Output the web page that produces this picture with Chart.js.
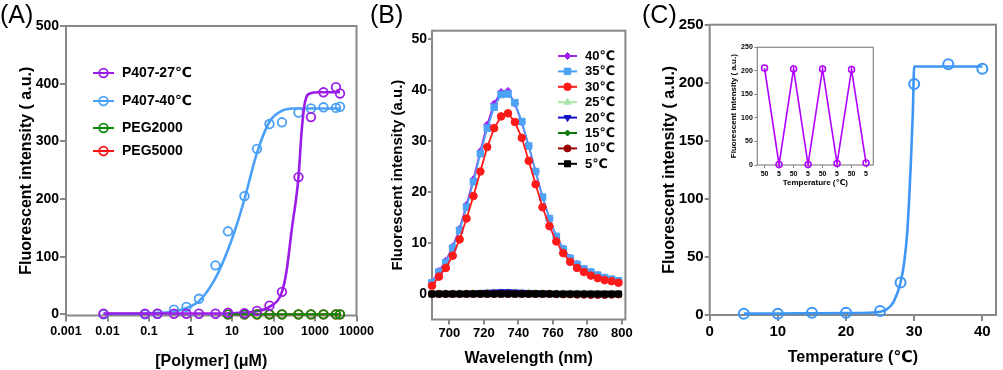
<!DOCTYPE html>
<html><head><meta charset="utf-8">
<script src="https://cdn.jsdelivr.net/npm/chart.js@4.4.1/dist/chart.umd.min.js"></script>
<style>
html,body{margin:0;padding:0;background:#fff;width:1003px;height:370px;overflow:hidden}
#wrap{position:relative;width:1003px;height:370px}
canvas{position:absolute;left:0;top:0}
.lbl{position:absolute;font-family:'Liberation Sans',Arial,sans-serif;font-size:25px;line-height:1;color:#000}
</style></head><body>
<div id="wrap">
<canvas id="cA" width="1003" height="370"></canvas>
<canvas id="cB" width="1003" height="370"></canvas>
<canvas id="cC" width="1003" height="370"></canvas>
<canvas id="cI" width="1003" height="370"></canvas>
<div class="lbl" style="left:0px;top:2px">(A)</div>
<div class="lbl" style="left:370px;top:2px">(B)</div>
<div class="lbl" style="left:642px;top:2px">(C)</div>
</div>
<script>
// ---------- Panel A data ----------
const concA = [0.008,0.08,0.16,0.4,0.8,1.6,4,8,20,40,80,160,400,800,1600,3200,4000];
const p407_27 = [1,1,1,1,1,1,1,3,2,6,15,39,238,342,385,394,383];
const p407_40 = [0,0,1,8,13,27,85,144,205,287,330,333,350,357,359,358,360];
const concPEG = [8,20,40,80,160,400,800,1600,3200,4000];
const peg2000 = [0,0,0,0,0,0,0,0,0,0];
const peg5000 = [0,0,0,0,0,0,0,0,0,0];
const fit27X = [0.008,0.1,1,10,20,40,80,160,207,274,400,478,574,758,1200,4000];
const fit27Y = [1.5,1.5,1.5,2,3,5.5,13,39,76,146,238,319,368,383,385,385];
const fit40X = [0.008,0.08,0.16,0.4,0.8,1.6,4,8,13,20,40,80,150,300,4000];
const fit40Y = [1,1.5,2.5,5,11,23,63,112,155,200,280,334,352,357,357];
const aXTicks = [0.001,0.01,0.1,1,10,100,1000,10000];
const aXTickLabels = ['0.001','0.01','0.1','1','10','100','1000','10000'];
const aYTicks = [0,100,200,300,400,500];
const aLegend = ['P407-27℃','P407-40℃','PEG2000','PEG5000'];

// ---------- Panel B data ----------
const wavelengths = [690,694,698,702,706,710,714,718,722,726,730,734,738,742,746,750,754,758,762,766,770,774,778,782,786,790,794,798];
const b40 = [2.3,4.5,6.5,9.3,12.8,17.5,22.5,28.0,33.2,37.3,39.6,39.8,37.3,33.6,29.0,24.0,19.0,14.8,11.2,8.9,7.1,5.9,5.0,4.3,3.7,3.3,2.9,2.6];
const b35 = [2.2,4.3,6.2,9.0,12.5,17.0,22.0,27.5,32.5,36.6,39.1,39.2,37.5,33.8,29.0,24.0,19.0,14.8,11.3,8.8,7.0,5.8,4.9,4.3,3.7,3.2,2.9,2.6];
const b30 = [1.6,3.4,5.1,7.5,10.7,14.8,19.2,24.0,28.8,32.5,34.8,35.4,33.7,30.6,26.1,21.5,17.0,13.3,10.3,8.0,6.3,5.1,4.3,3.6,3.1,2.7,2.5,2.2];
const b25 = [0.1,0.1,0.1,0.1,0.15,0.15,0.2,0.2,0.25,0.3,0.3,0.3,0.3,0.25,0.25,0.2,0.2,0.15,0.1,0.1,0.1,0.1,0.1,0.05,0.05,0.05,0.05,0.05];
const b20 = [0,0,0,0.05,0.1,0.15,0.2,0.3,0.35,0.4,0.45,0.45,0.4,0.35,0.3,0.25,0.2,0.15,0.1,0.1,0.05,0.05,0,0,0,0,0,0];
const b15 = [0,0,0,0,0.05,0.05,0.1,0.1,0.1,0.15,0.15,0.15,0.15,0.1,0.1,0.1,0.05,0.05,0,0,0,0,0,0,0,0,0,0];
const b10 = [0,0,0,0,0,0,0,0,0,0,0,0,0,0,0,0,0,0,-0.05,-0.1,-0.1,-0.15,-0.15,-0.2,-0.2,-0.2,-0.15,-0.1];
const b5 = [0,0,0,0,0,0,0,0,0,0,0,0,0,0,0,0,0,0,0,0,0,0,0,0,0,0,0,0];
const bXTicks = [700,720,740,760,780,800];
const bYTicks = [0,10,20,30,40,50];
const bLegend = ['40℃','35℃','30℃','25℃','20℃','15℃','10℃','5℃'];

// ---------- Panel C data ----------
const tempC = [5,10,15,20,25,28,30,35,40];
const intensityC = [1,1,2,2,3.5,28,199,216,212];
const fitCX = [5,10,15,20,24,25,26,27,28,28.5,29,29.5,29.8,30,40];
const fitCY = [1.2,1.3,1.5,1.7,2.2,2.8,5,11.5,28,44,73,130,174,214,214];
const cXTicks = [0,10,20,30,40];
const cYTicks = [0,50,100,150,200,250];

// ---------- Inset data ----------
const insetLabels = ['50','5','50','5','50','5','50','5'];
const insetValues = [206,1,204,1,204,3,203,4];
const insetYTicks = [0,50,100,150,200,250];

// ---------- helpers ----------
const FONT = "'Liberation Sans', Arial, 'DejaVu Sans', sans-serif";
Chart.defaults.font.family = FONT;
Chart.defaults.color = '#000';
const GRAY = '#888888';
const PURPLE = '#9b1ce8', BLUE = '#4aa0f7', GREEN = '#0a8a0a', RED = '#ff1010';

function pts(xs, ys){ return xs.map((x,i)=>({x:x, y:ys[i]})); }

function framePlugin(w){
  return { id:'frame', beforeDatasetsDraw(chart){
    const a = chart.chartArea, ctx = chart.ctx;
    ctx.save(); ctx.strokeStyle = GRAY; ctx.lineWidth = w;
    ctx.strokeRect(a.left, a.top, a.right-a.left, a.bottom-a.top);
    ctx.restore();
  }};
}

function drawMarker(ctx, ds, x, y){
  ctx.save();
  ctx.fillStyle = ds.pointBackgroundColor;
  ctx.strokeStyle = ds.pointBorderColor || ds.borderColor;
  ctx.lineWidth = ds.pointBorderWidth || 1;
  Chart.helpers.drawPoint(ctx, {pointStyle: ds.pointStyle, radius: ds.pointRadius,
    rotation: ds.pointRotation || 0, borderWidth: ds.pointBorderWidth || 1}, x, y);
  ctx.restore();
}

function legendPlugin(cfg){
  return { id:'customLegend', afterDatasetsDraw(chart){
    const ctx = chart.ctx;
    cfg.items.forEach((it, i) => {
      const ds = chart.data.datasets[it.ds];
      const y = cfg.ys ? cfg.ys[i] : cfg.y0 + i*cfg.dy;
      ctx.save();
      ctx.strokeStyle = ds.borderColor; ctx.lineWidth = cfg.lw;
      ctx.beginPath(); ctx.moveTo(cfg.x0, y); ctx.lineTo(cfg.x1, y); ctx.stroke();
      ctx.restore();
      drawMarker(ctx, ds, (cfg.x0+cfg.x1)/2, y);
      ctx.save();
      ctx.fillStyle = '#000'; ctx.font = 'bold ' + cfg.size + 'px ' + FONT;
      ctx.textBaseline = 'middle'; ctx.textAlign = 'left';
      ctx.fillText(it.text, cfg.tx, y + 0.5);
      ctx.restore();
    });
  }};
}

function axis(o){
  return {
    type: o.type || 'linear', position: o.position, min: o.min, max: o.max,
    offset: !!o.offset,
    afterBuildTicks: o.ticks ? (s => { s.ticks = o.ticks.map(v => ({value:v})); }) : undefined,
    afterFit: s => { if (o.position === 'left') s.width = o.size; else s.height = o.size; },
    grid: {drawOnChartArea:false, drawTicks:true, tickLength:o.tl, color:GRAY, lineWidth:o.glw || 2, offset:false},
    border: {display:false},
    ticks: {font:{size:o.tickSize, weight:'bold'}, padding:o.pad, color:'#000', autoSkip:false,
      maxRotation:0, minRotation:0,
      callback: o.labels ? ((v,i) => o.labels[i]) : (v => String(v))},
    title: {display:true, text:o.title, font:{size:o.titleSize, weight:'bold', lineHeight:1}, padding:0, color:'#000'}
  };
}

const common = { responsive:false, maintainAspectRatio:false, animation:false, events:[],
  plugins:{legend:{display:false}, tooltip:{enabled:false}} };

// ---------- Chart A ----------
const circ = (c) => ({borderColor:c, pointBorderColor:c, pointBackgroundColor:'rgba(0,0,0,0)',
  pointStyle:'circle', pointRadius:4.3, pointBorderWidth:1.8, showLine:false, clip:false});
new Chart(document.getElementById('cA'), {
  type:'scatter',
  data:{datasets:[
    Object.assign({label:aLegend[0], data:pts(concA,p407_27), order:0}, circ(PURPLE)),
    {label:'fit27', data:pts(fit27X,fit27Y), showLine:true, pointRadius:0, borderColor:PURPLE, borderWidth:2.6, cubicInterpolationMode:'monotone', order:1},
    Object.assign({label:aLegend[1], data:pts(concA,p407_40), order:2}, circ(BLUE)),
    {label:'fit40', data:pts(fit40X,fit40Y), showLine:true, pointRadius:0, borderColor:BLUE, borderWidth:2.6, cubicInterpolationMode:'monotone', order:3},
    Object.assign({label:aLegend[2], data:pts(concPEG,peg2000), order:0.5}, circ(GREEN), {showLine:true, borderWidth:2}),
    Object.assign({label:aLegend[3], data:pts(concPEG,peg5000), order:4}, circ(RED), {showLine:true, borderWidth:2})
  ]},
  options:Object.assign({}, common, {
    layout:{padding:{left:19, right:646.5, top:26, bottom:0}},
    scales:{
      x: axis({type:'logarithmic', position:'bottom', min:0.001, max:10000, ticks:aXTicks, labels:aXTickLabels,
        size:54.5, tl:6, pad:3, tickSize:12.5, title:'[Polymer] (μM)', titleSize:16}),
      y: axis({position:'left', min:-2, max:500, ticks:aYTicks, size:47, tl:6, pad:1, tickSize:14,
        title:'Fluorescent intensity ( a.u.)', titleSize:16})
    }
  }),
  plugins:[framePlugin(2), legendPlugin({x0:93, x1:114, tx:122, ys:[73,101,128,151], lw:2, size:14,
    items:[{ds:0,text:aLegend[0]},{ds:2,text:aLegend[1]},{ds:4,text:aLegend[2]},{ds:5,text:aLegend[3]}]})]
});

// ---------- Chart B ----------
function ser(label, ys, color, style, r, order, rot){
  return {label:label, data:pts(wavelengths, ys), showLine:true, borderColor:color, borderWidth:1.8,
    pointStyle:style, pointRadius:r, pointBackgroundColor:color, pointBorderColor:color, pointBorderWidth:1,
    pointRotation:rot||0, order:order, clip:false};
}
new Chart(document.getElementById('cB'), {
  type:'scatter',
  data:{datasets:[
    ser(bLegend[0], b40, '#a020f0', 'rectRot', 3.5, 7),
    ser(bLegend[1], b35, '#4da3f5', 'rect', 4.6, 6),
    ser(bLegend[2], b30, '#ff1a1a', 'circle', 3.8, 5),
    ser(bLegend[3], b25, '#a8e6a8', 'triangle', 4, 4),
    ser(bLegend[4], b20, '#1010c8', 'triangle', 4, 3, 180),
    ser(bLegend[5], b15, '#0a7a0a', 'rectRot', 3, 2),
    ser(bLegend[6], b10, '#990000', 'circle', 3.5, 1),
    ser(bLegend[7], b5, '#000000', 'rect', 4.3, 0)
  ]},
  options:Object.assign({}, common, {
    layout:{padding:{left:390.5, right:377.6, top:30.7, bottom:3}},
    scales:{
      x: axis({position:'bottom', min:690, max:802, ticks:bXTicks, size:47.5, tl:5, pad:1, tickSize:13,
        title:'Wavelength (nm)', titleSize:16}),
      y: axis({position:'left', min:-5, max:51.6, ticks:bYTicks, size:41.5, tl:4, pad:1, tickSize:14,
        title:'Fluorescent intensity (a.u.)', titleSize:15})
    }
  }),
  plugins:[framePlugin(2), legendPlugin({x0:558, x1:577, tx:585, y0:56, dy:15.4, lw:2, size:13,
    items:bLegend.map((t,i)=>({ds:i, text:t}))})]
});

// ---------- Chart C ----------
new Chart(document.getElementById('cC'), {
  type:'scatter',
  data:{datasets:[
    {label:'data', data:pts(tempC,intensityC), showLine:false, pointStyle:'circle', pointRadius:5,
      pointBorderWidth:2, pointBorderColor:'#3d96f5', pointBackgroundColor:'rgba(0,0,0,0)', borderColor:'#3d96f5', order:0, clip:false},
    {label:'fit', data:pts(fitCX,fitCY), showLine:true, pointRadius:0, borderColor:'#3d96f5', borderWidth:2.6,
      cubicInterpolationMode:'monotone', order:1}
  ]},
  options:Object.assign({}, common, {
    layout:{padding:{left:662, right:3.5, top:24.7, bottom:4}},
    scales:{
      x: axis({position:'bottom', min:0, max:42, ticks:cXTicks, size:51, tl:6, pad:2, tickSize:15,
        title:'Temperature (℃)', titleSize:16}),
      y: axis({position:'left', min:0, max:250, ticks:cYTicks, size:47.7, tl:5, pad:1, tickSize:15,
        title:'Fluorescent intensity ( a.u.)', titleSize:16})
    }
  }),
  plugins:[framePlugin(2)]
});

// ---------- Inset ----------
new Chart(document.getElementById('cI'), {
  type:'line',
  data:{labels:insetLabels, datasets:[
    {label:'cycle', data:insetValues, borderColor:'#b000ff', borderWidth:1.6, pointStyle:'circle', pointRadius:3,
      pointBorderWidth:1.5, pointBorderColor:'#b000ff', pointBackgroundColor:'rgba(0,0,0,0)', tension:0, clip:false}
  ]},
  options:Object.assign({}, common, {
    layout:{padding:{left:729.3, right:129.7, top:47.3, bottom:183.3}},
    scales:{
      x: axis({type:'category', position:'bottom', offset:true, labels:insetLabels, size:21.7, tl:3, pad:1.5, tickSize:7,
        glw:1, title:'Temperature (℃)', titleSize:8}),
      y: axis({position:'left', min:0, max:250, ticks:insetYTicks, size:28, tl:3, pad:1.5, tickSize:7,
        glw:1, title:'Fluorescent intensity ( a.u.)', titleSize:8})
    }
  }),
  plugins:[framePlugin(1.2)]
});
</script>
</body></html>
